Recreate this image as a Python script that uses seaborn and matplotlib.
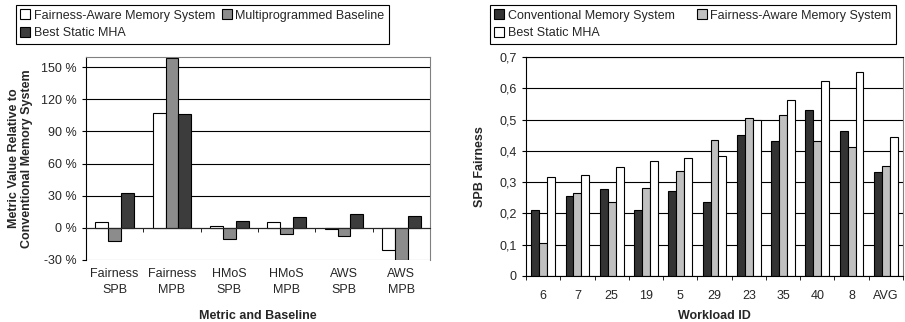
# -*- coding: utf-8 -*-
# Deux histogrammes : valeurs relatives (gauche) et SPB Fairness par workload (droite)

import numpy as np
import pandas as pd
import matplotlib
matplotlib.use("Agg")
import matplotlib.pyplot as plt
from matplotlib.patches import Patch
from matplotlib.ticker import FuncFormatter
import seaborn as sns

# Données - graphique de gauche
metriques = ["Fairness\nSPB", "Fairness\nMPB", "HMoS\nSPB", "HMoS\nMPB", "AWS\nSPB", "AWS\nMPB"]
fairness_aware_g = [5.6, 107, 1.9, 5.3, -0.9, -21.1]
multiprog_baseline = [-12.1, 159, -10.2, -5.3, -7.5, -30]
best_static_g = [32.8, 106, 6.5, 10.2, 13.3, 11.2]

# Données - graphique de droite
workloads = ["6", "7", "25", "19", "5", "29", "23", "35", "40", "8", "AVG"]
conventional = [0.212, 0.255, 0.279, 0.210, 0.272, 0.236, 0.452, 0.433, 0.532, 0.462, 0.334]
fairness_aware_d = [0.104, 0.265, 0.235, 0.280, 0.335, 0.436, 0.505, 0.514, 0.433, 0.413, 0.353]
best_static_d = [0.317, 0.322, 0.347, 0.368, 0.378, 0.383, 0.500, 0.564, 0.624, 0.652, 0.443]

series_g = ["Fairness-Aware Memory System", "Multiprogrammed Baseline", "Best Static MHA"]
series_d = ["Conventional Memory System", "Fairness-Aware Memory System", "Best Static MHA"]
couleurs_g = {series_g[0]: "white", series_g[1]: "#8c8c8c", series_g[2]: "#3c3c3c"}
couleurs_d = {series_d[0]: "#333333", series_d[1]: "#c0c0c0", series_d[2]: "white"}

df_g = pd.DataFrame({
    "metrique": metriques * 3,
    "serie": [s for s in series_g for _ in metriques],
    "valeur": fairness_aware_g + multiprog_baseline + best_static_g,
})
df_d = pd.DataFrame({
    "workload": workloads * 3,
    "serie": [s for s in series_d for _ in workloads],
    "valeur": conventional + fairness_aware_d + best_static_d,
})

sns.set_style("white")
plt.rcParams['font.family'] = ['Liberation Sans', 'DejaVu Sans']
plt.rcParams['font.size'] = 9

fig = plt.figure(figsize=(9.05, 3.22), dpi=100)
ax1 = fig.add_axes([86 / 905, 62 / 322, 344 / 905, 203 / 322])
ax2 = fig.add_axes([526 / 905, 46 / 322, 377 / 905, 219 / 322])

## Graphique de gauche
sns.barplot(data=df_g, x="metrique", y="valeur", hue="serie", hue_order=series_g,
            palette=couleurs_g, width=0.67, gap=0, saturation=1, errorbar=None,
            edgecolor="black", linewidth=0.8, legend=False, ax=ax1)
ax1.set_xlim(-0.5, 5.5)
ax1.set_ylim(-30, 159.5)
ax1.set_yticks(np.arange(-30, 151, 30))
ax1.yaxis.set_major_formatter(FuncFormatter(lambda v, p: f"{v:.0f} %"))
ax1.set_axisbelow(True)
ax1.yaxis.grid(True, color="black", lw=0.8)
ax1.yaxis.get_gridlines()[0].set_color("#808080")
ax1.spines["bottom"].set_position(("data", 0))
ax1.spines["left"].set_color("black")
for s in ["top", "right"]:
    ax1.spines[s].set_color("#808080")
ax1.set_xticks(range(len(metriques)))
ax1.set_xticklabels(metriques, linespacing=1.4)
ax1.set_xticks(np.arange(-0.5, len(metriques), 1), minor=True)
ax1.tick_params(axis="x", which="major", length=0, pad=29)
ax1.tick_params(axis="x", which="minor", length=3, direction="out", bottom=True, color="black")
ax1.tick_params(axis="y", length=3, direction="out", left=True, color="black")
ax1.set_xlabel("Metric and Baseline", fontweight="bold")
ax1.set_ylabel("Metric Value Relative to\nConventional Memory System", fontweight="bold", linespacing=1.1)
ax1.yaxis.set_label_coords(-0.154, 0.5)
ax1.xaxis.set_label_coords(0.5, -0.245)

## Graphique de droite
sns.barplot(data=df_d, x="workload", y="valeur", hue="serie", hue_order=series_d,
            palette=couleurs_d, width=0.69, gap=0, saturation=1, errorbar=None,
            edgecolor="black", linewidth=0.8, legend=False, ax=ax2)
ax2.set_xlim(-0.5, 10.5)
ax2.set_ylim(0, 0.7)
ax2.set_yticks(np.arange(0, 0.71, 0.1))
ax2.yaxis.set_major_formatter(FuncFormatter(lambda v, p: "0" if v == 0 else f"{v:.1f}".replace(".", ",")))
ax2.set_axisbelow(True)
ax2.yaxis.grid(True, color="black", lw=0.8)
for s in ["left", "bottom", "top"]:
    ax2.spines[s].set_color("black")
ax2.spines["right"].set_color("#808080")
ax2.set_xticks(range(len(workloads)))
ax2.set_xticklabels(workloads)
ax2.set_xticks(np.arange(-0.5, len(workloads), 1), minor=True)
ax2.tick_params(axis="x", which="major", length=0, pad=10)
ax2.tick_params(axis="x", which="minor", length=3, direction="out", bottom=True, color="black")
ax2.tick_params(axis="y", length=3, direction="out", left=True, color="black")
ax2.set_xlabel("Workload ID", fontweight="bold")
ax2.set_ylabel("SPB Fairness", fontweight="bold")
ax2.yaxis.set_label_coords(-0.105, 0.5)
ax2.xaxis.set_label_coords(0.5, -0.155)

## Légendes (ordre colonne pour obtenir 2 éléments sur la 1re ligne)
def poignee(c):
    return Patch(facecolor=c, edgecolor="black", linewidth=0.8)

ordre_g = [series_g[0], series_g[2], series_g[1]]
leg1 = fig.legend([poignee(couleurs_g[s]) for s in ordre_g], ordre_g, ncol=2,
                  loc="upper left", bbox_to_anchor=(16 / 905, 1 - 5 / 322),
                  fancybox=False, edgecolor="black", framealpha=1,
                  handlelength=0.8, handleheight=0.8, handletextpad=0.25,
                  columnspacing=0.6, borderpad=0.35, labelspacing=0.45, borderaxespad=0)
leg1.get_frame().set_linewidth(0.8)

ordre_d = [series_d[0], series_d[2], series_d[1]]
leg2 = fig.legend([poignee(couleurs_d[s]) for s in ordre_d], ordre_d, ncol=2,
                  loc="upper left", bbox_to_anchor=(490 / 905, 1 - 5 / 322),
                  fancybox=False, edgecolor="black", framealpha=1,
                  handlelength=0.8, handleheight=0.8, handletextpad=0.25,
                  columnspacing=1.8, borderpad=0.35, labelspacing=0.45, borderaxespad=0)
leg2.get_frame().set_linewidth(0.8)

plt.savefig("out.png", dpi=100)
